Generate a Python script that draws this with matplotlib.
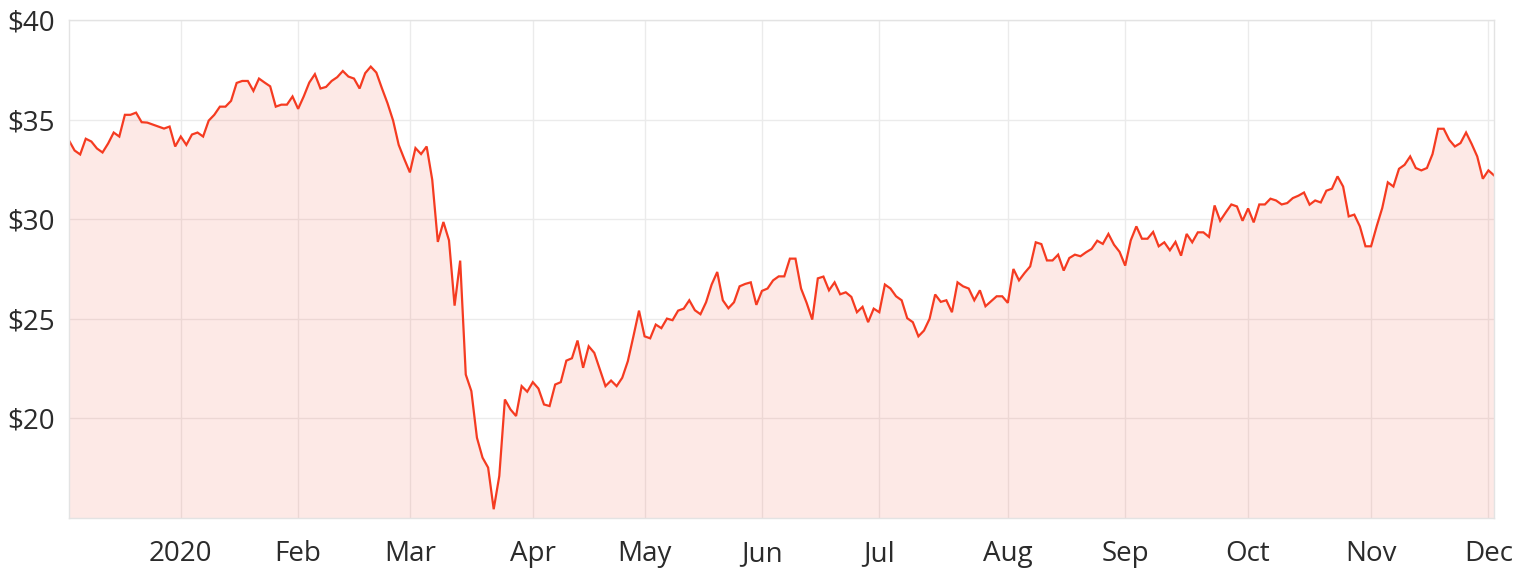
import numpy as np
import matplotlib
matplotlib.use("Agg")
import matplotlib.pyplot as plt

# closing prices, one value per ASX trading day (Dec 2019 - Dec 2020)
dec19 = [33.95, 33.45, 33.25, 34.04, 33.90, 33.55, 33.35, 33.80, 34.35, 34.15,
         35.24, 35.24, 35.35, 34.87, 34.85, 34.75, 34.65, 34.55, 34.65, 33.65]
jan20 = [34.15, 33.73, 34.25, 34.35, 34.15, 34.95, 35.24, 35.65, 35.65, 35.94,
         36.84, 36.94, 36.94, 36.44, 37.06, 36.86, 36.67, 35.65, 35.75, 35.75, 36.16]
feb20 = [35.54, 36.16, 36.86, 37.28, 36.56, 36.64, 36.94, 37.13, 37.44, 37.16,
         37.06, 36.56, 37.33, 37.66, 37.36, 36.57, 35.82, 34.95, 33.73, 33.02]
mar20 = [32.35, 33.57, 33.27, 33.65, 31.98, 28.86, 29.86, 28.94, 25.66, 27.92,
         22.20, 21.37, 19.03, 18.03, 17.53, 15.44, 17.11, 20.95, 20.45, 20.12,
         21.62, 21.34]
apr20 = [21.82, 21.50, 20.70, 20.62, 21.70, 21.82, 22.90, 23.02, 23.91, 22.54,
         23.62, 23.29, 22.46, 21.62, 21.90, 21.62, 22.04, 22.87, 24.12, 25.41]
may20 = [24.12, 24.02, 24.71, 24.53, 25.01, 24.93, 25.41, 25.51, 25.93, 25.43,
         25.23, 25.83, 26.72, 27.35, 25.93, 25.53, 25.83, 26.63, 26.75, 26.83, 25.70]
jun20 = [26.40, 26.52, 26.93, 27.13, 27.13, 28.02, 28.02, 26.52, 25.80, 24.96,
         27.03, 27.12, 26.43, 26.83, 26.23, 26.33, 26.10, 25.33, 25.60, 24.83, 25.51]
jul20 = [25.33, 26.72, 26.52, 26.13, 25.93, 25.03, 24.83, 24.12, 24.41, 25.00,
         26.22, 25.85, 25.93, 25.33, 26.83, 26.63, 26.52, 25.93, 26.43, 25.63,
         25.88, 26.13, 26.13]
aug20 = [25.80, 27.50, 26.93, 27.30, 27.63, 28.84, 28.75, 27.93, 27.93, 28.22,
         27.42, 28.05, 28.22, 28.14, 28.34, 28.51, 28.92, 28.76, 29.26, 28.72, 28.36]
sep20 = [27.67, 28.94, 29.64, 29.02, 29.02, 29.36, 28.64, 28.84, 28.44, 28.86,
         28.17, 29.26, 28.84, 29.34, 29.34, 29.11, 30.69, 29.92, 30.34, 30.74,
         30.64, 29.92]
oct20 = [30.54, 29.84, 30.74, 30.74, 31.03, 30.94, 30.74, 30.81, 31.06, 31.18,
         31.34, 30.73, 30.94, 30.84, 31.43, 31.53, 32.15, 31.64, 30.14, 30.23,
         29.64, 28.64]
nov20 = [28.64, 29.64, 30.56, 31.85, 31.64, 32.53, 32.73, 33.15, 32.57, 32.45,
         32.57, 33.27, 34.54, 34.54, 33.98, 33.65, 33.82, 34.35, 33.78, 33.15, 32.03]
dec20 = [32.45, 32.20]

months = [dec19, jan20, feb20, mar20, apr20, may20, jun20, jul20,
          aug20, sep20, oct20, nov20, dec20]
month_labels = ["2020", "Feb", "Mar", "Apr", "May", "Jun", "Jul",
                "Aug", "Sep", "Oct", "Nov", "Dec"]
y_ticks = [20, 25, 30, 35, 40]

prices = np.concatenate(months)
x = np.arange(len(prices))
# tick on the first trading day of each month
month_starts = np.cumsum([len(m) for m in months])[:-1]

plt.rcParams['font.family'] = ['Open Sans', 'DejaVu Sans']

line_col = '#f53b21'
grid_col = '#ebebeb'
text_col = '#2b2b2b'

fig = plt.figure(figsize=(15.22, 5.72), dpi=100)
ax = fig.add_axes([69 / 1522, 1 - 518 / 572, (1494 - 69) / 1522, (518 - 20) / 572])

ax.fill_between(x, prices, 15, color=line_col, alpha=0.11, linewidth=0)
ax.plot(x, prices, color=line_col, linewidth=1.6, solid_joinstyle='miter')

ax.set_xlim(0, len(prices) - 1)
ax.set_ylim(15, 40)
ax.set_yticks(y_ticks)
ax.set_yticklabels([f"${v}" for v in y_ticks])
ax.set_xticks(month_starts)
ax.set_xticklabels(month_labels)

ax.grid(True, color=grid_col, linewidth=1)
ax.set_axisbelow(True)
for s in ax.spines.values():
    s.set_color('#e3e3e3')
    s.set_linewidth(1)

ax.tick_params(axis='both', length=0, labelsize=20, colors=text_col)
ax.tick_params(axis='y', pad=10)
ax.tick_params(axis='x', pad=16)

fig.savefig("out.png", dpi=100)
